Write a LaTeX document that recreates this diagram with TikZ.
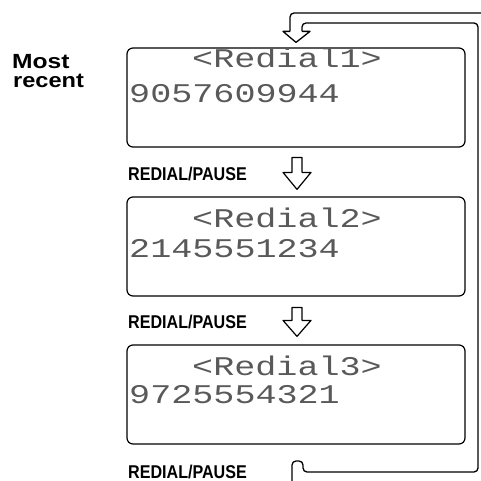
\documentclass[tikz,border=0pt]{standalone}
\usepackage{fontspec}
\setsansfont{Liberation Sans}
\setmonofont{Liberation Mono}
\usetikzlibrary{calc}
\begin{document}
\begin{tikzpicture}[x=1pt,y=-1pt,line join=round,
  lcdbox/.style={draw,line width=1.2pt,rounded corners=6pt,minimum width=338pt,minimum height=99pt,inner sep=0pt},
  lcdtext/.style={font=\ttfamily\fontsize{27}{27}\selectfont,text=black!65,inner sep=0pt,anchor=base west},
  keylbl/.style={font=\sffamily\bfseries\fontsize{18.5}{18.5}\selectfont,inner sep=0pt,anchor=base west},
  sidelbl/.style={font=\sffamily\bfseries\fontsize{20.5}{20.5}\selectfont,inner sep=0pt,anchor=base west},
  hollow/.style={draw,line width=1.2pt,fill=white},
  loopline/.style={draw,line width=1.3pt,rounded corners=4pt}]
\useasboundingbox (0,0) rectangle (480,481);
\newcommand\lcd[1]{\scalebox{1.3}[1]{#1}}
% boxes
\node[lcdbox] (b1) at (296,97.5) {};
\node[lcdbox] (b2) at (296,246.5) {};
\node[lcdbox] (b3) at (296,394.5) {};
% lcd texts
\node[lcdtext] (t1a) at (192,68) {\lcd{<Redial1>}};
\node[lcdtext] (t1b) at (129,103) {\lcd{9057609944}};
\node[lcdtext] (t2a) at (192,227) {\lcd{<Redial2>}};
\node[lcdtext] (t2b) at (129,257) {\lcd{2145551234}};
\node[lcdtext] (t3a) at (192,375) {\lcd{<Redial3>}};
\node[lcdtext] (t3b) at (129,403) {\lcd{9725554321}};
% side labels
\node[sidelbl] (most) at (12,69) {\scalebox{1.2}[1]{Most}};
\node[sidelbl] (recent) at (13,88) {\scalebox{1.15}[1]{recent}};
\node[keylbl] (k1) at (128,180) {\scalebox{0.87}[1]{REDIAL/PAUSE}};
\node[keylbl] (k2) at (128,328) {\scalebox{0.87}[1]{REDIAL/PAUSE}};
\node[keylbl] (k3) at (128,478) {\scalebox{0.87}[1]{REDIAL/PAUSE}};
% down arrows
\coordinate (a1) at ($(b2.north)+(1,-7)$);
\coordinate (a2) at ($(b3.north)+(1,-8)$);
\draw[hollow] (a1) -- ++(-14,-17) -- ++(9,0) -- ++(0,-15) -- ++(10,0) -- ++(0,15) -- ++(9,0) -- cycle;
\draw[hollow] (a2) -- ++(-14,-16) -- ++(9,0) -- ++(0,-13) -- ++(10,0) -- ++(0,13) -- ++(9,0) -- cycle;
% loop arrow
\coordinate (lt) at ($(b1.north)+(0,-5)$);
\draw[line width=1.3pt] (lt) -- ++(-13,-11) -- ++(7,0);
\draw[line width=1.3pt] (lt) -- ++(14,-11) -- ++(-8,0);
\draw[loopline] ($(lt)+(-6,-11)$) -- (290,13) -- (490,13);
\draw[loopline] ($(lt)+(6,-11)$) -- (302,23) -- (478,23) -- (478,472) -- (303,472) -- (303,461) -- (292,461) -- (292,490);
\end{tikzpicture}
\end{document}
